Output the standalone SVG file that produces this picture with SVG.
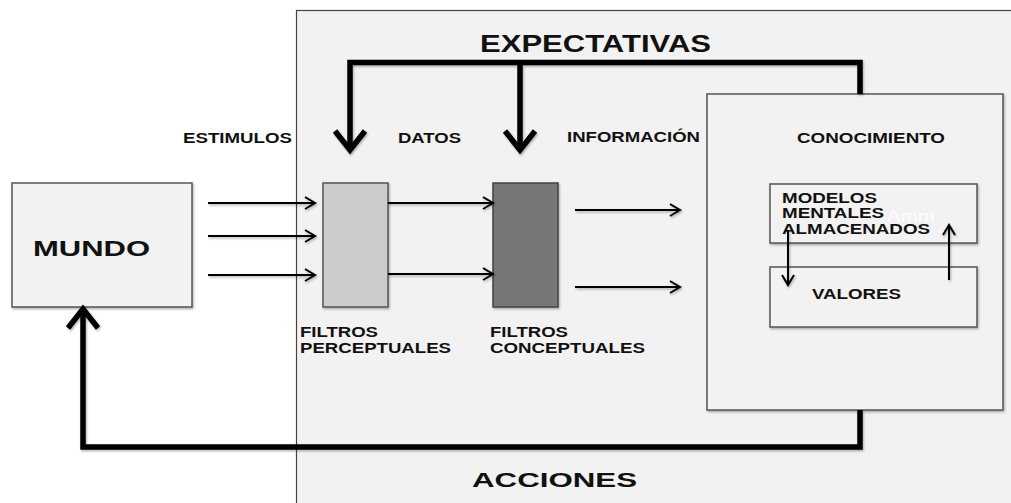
<svg xmlns="http://www.w3.org/2000/svg" width="1011" height="503" viewBox="0 0 1011 503">
<defs>
<style>
.box{fill:#f2f2f2;stroke:#555;stroke-width:1.5}
.t{font-family:"Liberation Sans",Arial,sans-serif;font-weight:bold;fill:#111}
.s{font-size:14px}
.thick{fill:none;stroke:#000;stroke-width:5.5;stroke-linejoin:miter}
.thin{fill:none;stroke:#000;stroke-width:2}
</style>
<filter id="sh" x="-10%" y="-10%" width="130%" height="130%">
<feDropShadow dx="1" dy="1.5" stdDeviation="1.2" flood-color="#000" flood-opacity="0.3"/>
</filter>
<marker id="big" markerUnits="userSpaceOnUse" markerWidth="40" markerHeight="40" viewBox="-24 -20 30 40" refX="0" refY="0" orient="auto">
<path d="M-19,-15 L0,0 L-19,15" fill="none" stroke="#000" stroke-width="5.5"/>
</marker>
<marker id="sm" markerUnits="userSpaceOnUse" markerWidth="20" markerHeight="20" viewBox="-13 -10 16 20" refX="0" refY="0" orient="auto">
<path d="M-10,-6 L0,0 L-10,6" fill="none" stroke="#000" stroke-width="2"/>
</marker>
</defs>
<rect width="1011" height="503" fill="#fff"/>

<g id="sistema">
<rect x="296.5" y="10.5" width="730" height="510" fill="#f2f2f2" stroke="#444" stroke-width="1.2"/>
</g>

<g id="labels">
<text class="t" x="480" y="52" font-size="23" textLength="231" lengthAdjust="spacingAndGlyphs">EXPECTATIVAS</text>
<text class="t s" x="183" y="143" textLength="109" lengthAdjust="spacingAndGlyphs">ESTIMULOS</text>
<text class="t s" x="398" y="143" textLength="63" lengthAdjust="spacingAndGlyphs">DATOS</text>
<text class="t s" x="567" y="142" textLength="133" lengthAdjust="spacingAndGlyphs">INFORMACIÓN</text>
<text class="t" x="472" y="487" font-size="21" textLength="165" lengthAdjust="spacingAndGlyphs">ACCIONES</text>
</g>

<g id="mundo">
<rect class="box" x="12" y="183" width="180" height="124" filter="url(#sh)"/>
<text class="t" x="33" y="256" font-size="22" textLength="117" lengthAdjust="spacingAndGlyphs">MUNDO</text>
</g>

<g id="filtros-perceptuales">
<rect x="323" y="183" width="65" height="124" fill="#cccccc" stroke="#555" stroke-width="1.5" filter="url(#sh)"/>
<text class="t s" x="300" y="337" textLength="78" lengthAdjust="spacingAndGlyphs">FILTROS</text>
<text class="t s" x="300" y="353" textLength="151" lengthAdjust="spacingAndGlyphs">PERCEPTUALES</text>
</g>

<g id="filtros-conceptuales">
<rect x="493" y="183" width="65" height="124" fill="#777777" stroke="#444" stroke-width="1.5" filter="url(#sh)"/>
<text class="t s" x="490" y="337" textLength="78" lengthAdjust="spacingAndGlyphs">FILTROS</text>
<text class="t s" x="490" y="353" textLength="155" lengthAdjust="spacingAndGlyphs">CONCEPTUALES</text>
</g>

<g id="conocimiento">
<rect class="box" x="707" y="94" width="296" height="316" filter="url(#sh)"/>
<text class="t s" x="797" y="143" textLength="148" lengthAdjust="spacingAndGlyphs">CONOCIMIENTO</text>
</g>

<g id="modelos">
<rect class="box" x="770" y="184" width="207" height="59" filter="url(#sh)"/>
<text class="t s" x="782" y="203" textLength="95" lengthAdjust="spacingAndGlyphs">MODELOS</text>
<text class="t s" x="782" y="218" textLength="102" lengthAdjust="spacingAndGlyphs">MENTALES</text>
<text x="887" y="222" font-family="Liberation Sans,Arial,sans-serif" font-size="16" fill="#fff" opacity="0.9" textLength="48" lengthAdjust="spacingAndGlyphs">Amm</text>
<text class="t s" x="782" y="234" textLength="148" lengthAdjust="spacingAndGlyphs">ALMACENADOS</text>
</g>

<g id="valores">
<rect class="box" x="770" y="267" width="207" height="60" filter="url(#sh)"/>
<text class="t s" x="812" y="299" textLength="89" lengthAdjust="spacingAndGlyphs">VALORES</text>
</g>

<g id="connectors" filter="url(#sh)">
<path class="thick" d="M860,94 V62.5 H350 V150" marker-end="url(#big)"/>
<path class="thick" d="M520,62.5 V150" marker-end="url(#big)"/>
<path class="thick" d="M860,410 V447 H83 V309" marker-end="url(#big)"/>
<path class="thin" d="M208,203 H315" marker-end="url(#sm)"/>
<path class="thin" d="M208,236 H315" marker-end="url(#sm)"/>
<path class="thin" d="M208,275 H315" marker-end="url(#sm)"/>
<path class="thin" d="M388,203 H493" marker-end="url(#sm)"/>
<path class="thin" d="M388,274 H493" marker-end="url(#sm)"/>
<path class="thin" d="M575,210 H680" marker-end="url(#sm)"/>
<path class="thin" d="M575,287 H680" marker-end="url(#sm)"/>
<path class="thin" d="M788,230 V285" marker-end="url(#sm)"/>
<path class="thin" d="M949,280 V225" marker-end="url(#sm)"/>
</g>
</svg>
